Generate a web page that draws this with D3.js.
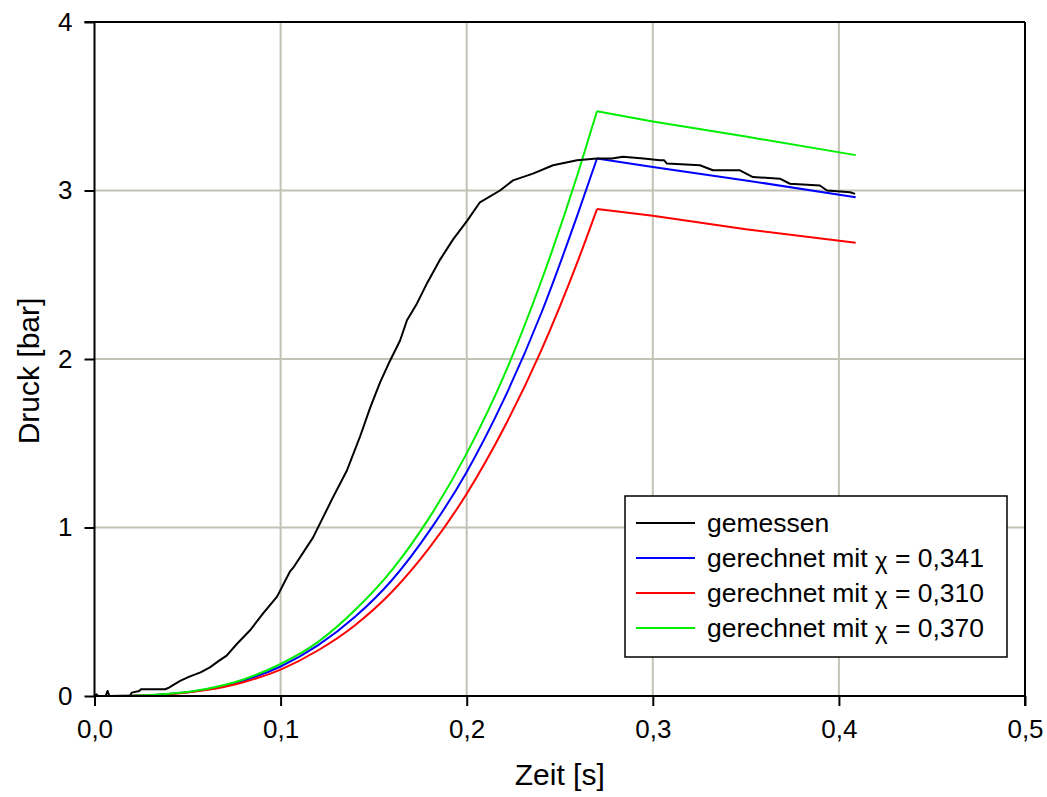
<!DOCTYPE html>
<html>
<head>
<meta charset="utf-8">
<script src="https://cdn.jsdelivr.net/npm/d3@7"></script>
<style>
    body { margin: 0; background: #fff; }
    text { font-family: "Liberation Sans", Arial, sans-serif; fill: #000; }
</style>
</head>
<body>
<div id="visualization"></div>
<script>
// measured pressure (gemessen): [time s, pressure bar]
var gemessen = [
    [0, 0], [0.001, 0.01], [0.002, 0], [0.006, 0], [0.007, 0.03], [0.008, 0], [0.019, 0],
    [0.020, 0.02], [0.024, 0.03], [0.025, 0.04], [0.038, 0.04], [0.040, 0.05], [0.046, 0.09],
    [0.051, 0.115], [0.057, 0.14], [0.062, 0.17], [0.067, 0.21], [0.071, 0.24], [0.0766, 0.31],
    [0.0836, 0.39], [0.0906, 0.49], [0.0981, 0.59], [0.1051, 0.74], [0.1067, 0.76], [0.1174, 0.94],
    [0.1228, 1.06], [0.1282, 1.18], [0.1357, 1.34], [0.1427, 1.54], [0.1481, 1.71], [0.1534, 1.86],
    [0.1588, 1.99], [0.1642, 2.11], [0.1679, 2.23], [0.1733, 2.33], [0.1787, 2.45], [0.1857, 2.59],
    [0.1927, 2.71], [0.2002, 2.82], [0.2071, 2.93], [0.2179, 3.00], [0.2249, 3.06], [0.2356, 3.10],
    [0.2464, 3.15], [0.2593, 3.18], [0.2700, 3.19], [0.2780, 3.19], [0.2840, 3.20], [0.2950, 3.19],
    [0.3038, 3.18], [0.3060, 3.18], [0.3076, 3.16], [0.3253, 3.15], [0.3323, 3.12], [0.3468, 3.12],
    [0.3538, 3.08], [0.3683, 3.07], [0.3737, 3.04], [0.3898, 3.03], [0.3936, 3.00], [0.4060, 2.99],
    [0.4087, 2.98]
];

// computed curves share the same time points
var zeitRechnung = [0, 0.02, 0.04, 0.06, 0.08, 0.10, 0.12, 0.14, 0.16, 0.18, 0.20, 0.22, 0.24, 0.26, 0.27, 0.30, 0.35, 0.409];
var chi341 = [0, 0.0016, 0.012, 0.039, 0.091, 0.175, 0.30, 0.47, 0.69, 0.98, 1.33, 1.76, 2.27, 2.87, 3.19, 3.14, 3.06, 2.96];
var chi310 = [0, 0.0014, 0.011, 0.035, 0.082, 0.157, 0.27, 0.42, 0.62, 0.88, 1.20, 1.59, 2.05, 2.59, 2.89, 2.85, 2.77, 2.69];
var chi370 = [0, 0.0017, 0.013, 0.042, 0.098, 0.19, 0.32, 0.51, 0.75, 1.06, 1.44, 1.90, 2.46, 3.11, 3.47, 3.41, 3.32, 3.21];

var xTicks = [0, 0.1, 0.2, 0.3, 0.4, 0.5];
var yTicks = [0, 1, 2, 3, 4];

var serien = [
    { name: "gemessen", color: "#000000", chi: null },
    { name: "gerechnet mit ", color: "#0000ff", chi: "0,341" },
    { name: "gerechnet mit ", color: "#ff0000", chi: "0,310" },
    { name: "gerechnet mit ", color: "#00ee00", chi: "0,370" }
];

var margin = { top: 22, right: 22, bottom: 101, left: 94.5 },
    width = 1047 - margin.left - margin.right,
    height = 797 - margin.top - margin.bottom;

var svg = d3.select("#visualization").append("svg")
    .attr("width", 1047)
    .attr("height", 797);

var canvas = svg.append("g")
    .attr("transform", "translate(" + margin.left + "," + margin.top + ")");

var xScale = d3.scaleLinear().domain([0, 0.5]).range([0, width]);
var yScale = d3.scaleLinear().domain([0, 4]).range([height, 0]);

// grid
canvas.append("g").selectAll("line")
    .data(xTicks.slice(1, -1))
    .enter().append("line")
    .attr("x1", d => xScale(d)).attr("x2", d => xScale(d))
    .attr("y1", 0).attr("y2", height)
    .attr("stroke", "#c2c2b6").attr("stroke-width", 2);

canvas.append("g").selectAll("line")
    .data(yTicks.slice(1, -1))
    .enter().append("line")
    .attr("y1", d => yScale(d)).attr("y2", d => yScale(d))
    .attr("x1", 0).attr("x2", width)
    .attr("stroke", "#c2c2b6").attr("stroke-width", 2);

// frame (top and right)
canvas.append("line").attr("x1", -10).attr("x2", width).attr("y1", 0).attr("y2", 0)
    .attr("stroke", "#000").attr("stroke-width", 2);
canvas.append("line").attr("x1", width).attr("x2", width).attr("y1", 0).attr("y2", height + 10)
    .attr("stroke", "#000").attr("stroke-width", 2);

// data lines
var line = d3.line()
    .x(d => xScale(d[0]))
    .y(d => yScale(d[1]));

var rechnungen = [chi341, chi310, chi370];
rechnungen.forEach(function (werte, i) {
    var pts = zeitRechnung.map((t, j) => [t, werte[j]]);
    var rise = pts.filter(d => d[0] <= 0.27);
    var fall = pts.filter(d => d[0] >= 0.27);
    canvas.append("path")
        .attr("d", line.curve(d3.curveMonotoneX)(rise))
        .attr("fill", "none").attr("stroke", serien[i + 1].color).attr("stroke-width", 2);
    canvas.append("path")
        .attr("d", line.curve(d3.curveLinear)(fall))
        .attr("fill", "none").attr("stroke", serien[i + 1].color).attr("stroke-width", 2);
});

canvas.append("path")
    .attr("d", line.curve(d3.curveLinear)(gemessen))
    .attr("fill", "none").attr("stroke", "#000").attr("stroke-width", 2)
    .attr("stroke-linejoin", "round");

// axes
var xAxis = d3.axisBottom(xScale)
    .tickValues(xTicks)
    .tickSize(10)
    .tickPadding(14)
    .tickFormat(d => d3.format(".1f")(d).replace(".", ","));

var yAxis = d3.axisLeft(yScale)
    .tickValues(yTicks)
    .tickSize(10)
    .tickPadding(12)
    .tickFormat(d3.format("d"));

var gx = canvas.append("g")
    .attr("transform", "translate(0," + height + ")")
    .call(xAxis);
var gy = canvas.append("g").call(yAxis);

[gx, gy].forEach(function (g) {
    g.select(".domain").attr("stroke", "#000").attr("stroke-width", 2);
    g.selectAll(".tick line").attr("stroke", "#000").attr("stroke-width", 2);
    g.selectAll(".tick text").style("font-size", "26px").style("font-family", "Liberation Sans, Arial, sans-serif");
});
gy.select(".domain").attr("d", "M0," + height + "V0");
gx.select(".domain").attr("d", "M0,0H" + width);

// axis titles
canvas.append("text")
    .attr("x", width / 2)
    .attr("y", height + 89)
    .attr("text-anchor", "middle")
    .style("font-size", "30px")
    .text("Zeit [s]");

canvas.append("text")
    .attr("transform", "translate(" + (-56) + "," + (height / 2 + 12) + ") rotate(-90)")
    .attr("text-anchor", "middle")
    .style("font-size", "30px")
    .text("Druck [bar]");

// legend
var legend = svg.append("g").attr("transform", "translate(625,496)");
legend.append("rect")
    .attr("width", 382).attr("height", 161)
    .attr("fill", "#fff").attr("stroke", "#000").attr("stroke-width", 1.5);

var rows = legend.selectAll(".row")
    .data(serien)
    .enter().append("g")
    .attr("class", "row")
    .attr("transform", (d, i) => "translate(0," + (27 + i * 35) + ")");

rows.append("line")
    .attr("x1", 11).attr("x2", 70)
    .attr("stroke", d => d.color).attr("stroke-width", 2);

var labels = rows.append("text")
    .attr("x", 82)
    .attr("dy", "0.35em")
    .style("font-size", "26.5px");
labels.append("tspan").text(d => d.name);
labels.filter(d => d.chi !== null).append("tspan").text("\u03c7").attr("dy", "2").style("font-size", "24px");
labels.filter(d => d.chi !== null).append("tspan").attr("dy", "-2").text(d => " = " + d.chi);
</script>
</body>
</html>
